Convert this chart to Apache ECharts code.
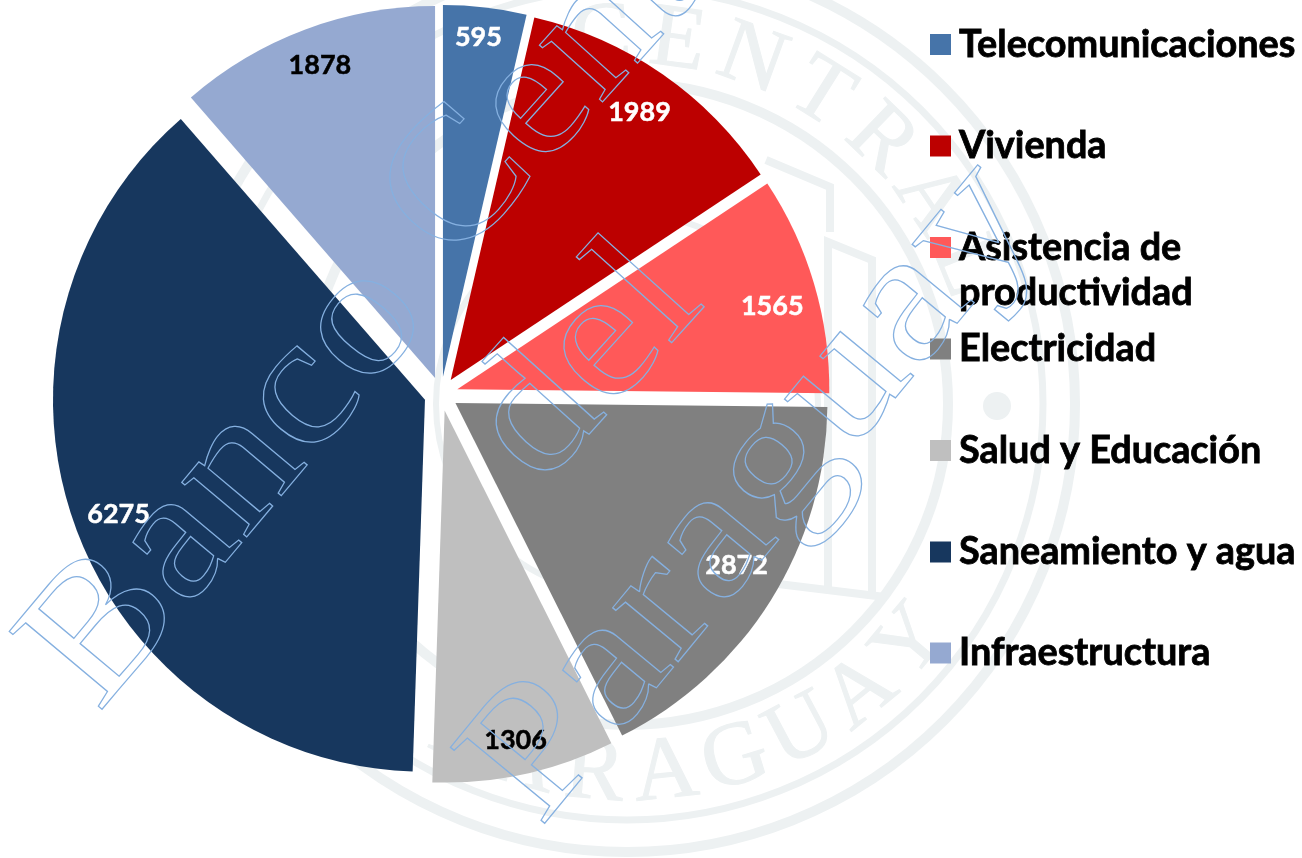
<!DOCTYPE html>
<html>
<head>
<meta charset="utf-8">
<style>html,body{margin:0;padding:0;background:#fff}#main{width:1302px;height:858px}</style>
<script src="https://cdn.jsdelivr.net/npm/echarts@6/dist/echarts.min.js"></script>
</head>
<body>
<div id="main"></div>
<script>
var categories = ['Telecomunicaciones', 'Vivienda', 'Asistencia de productividad', 'Electricidad', 'Salud y Educación', 'Saneamiento y agua', 'Infraestructura'];
var values = [595, 1989, 1565, 2872, 1306, 6275, 1878];
var colors = ['#4674A9', '#BC0000', '#FF5959', '#808080', '#BFBFBF', '#17375E', '#95A9D1'];
var labelColors = ['#fff', '#fff', '#fff', '#fff', '#000', '#fff', '#000'];
var labelNudges = [[-2, -10], [0, 5], [-3, 11], [0, -13], [0, 6], [6, 4], [1, -2]];
var legendY = [44.5, 146, 247.5, 349, 450.5, 552, 653];

var sealCx = 627, sealCy = 404;
var sealColor = '#EDF1F2';
var lineColor = '#85B0E0';

var dom = document.getElementById('main');
var myChart = echarts.init(dom);

// one legend per entry, the spacing in the picture is fixed
var legends = categories.map(function (name, i) {
    var twoLines = name.indexOf('Asistencia') === 0;
    return {
        data: [name],
        left: 930,
        top: legendY[i] - (twoLines ? 67.5 : 22.5),
        padding: 0,
        itemWidth: 21,
        itemHeight: 21,
        icon: 'rect',
        selectedMode: false,
        formatter: function (n) {
            return twoLines ? '\nAsistencia de\nproductividad' : n;
        },
        textStyle: {
            fontFamily: 'Lato',
            fontWeight: 'bold',
            fontSize: 37.8,
            lineHeight: 45,
            color: '#000',
            textBorderColor: '#000',
            textBorderWidth: 0.8,
            padding: [0, 0, 0, 3]
        }
    };
});

function sliceData(withLabel) {
    return categories.map(function (name, i) {
        var d = {name: name, value: values[i], selected: true};
        if (withLabel) {
            d.itemStyle = {color: 'transparent'};
            d.label = {
                color: labelColors[i],
                textBorderColor: labelColors[i],
                textBorderWidth: 0.5
            };
        } else {
            d.itemStyle = {color: colors[i]};
        }
        return d;
    });
}

// seal behind the pie, the letters follow the ring
var watermark = [];
function ring(r, w) {
    watermark.push({type: 'circle', z: -1, silent: true, shape: {cx: sealCx, cy: sealCy, r: r},
        style: {fill: 'transparent', stroke: sealColor, lineWidth: w}});
}
ring(448, 10);
ring(416, 7);
ring(321, 10);
ring(191, 6);
function ringText(str, startDeg, stepDeg, r, bottom) {
    str.split('').forEach(function (ch, i) {
        var deg = startDeg + i * stepDeg;
        var a = deg * Math.PI / 180;
        watermark.push({type: 'text', z: -1, silent: true,
            x: sealCx + r * Math.sin(a), y: sealCy - r * Math.cos(a),
            rotation: bottom ? Math.PI - a : -a,
            style: {text: ch, fill: sealColor, stroke: sealColor, lineWidth: 1,
                font: '90px "Liberation Serif"', align: 'center', verticalAlign: 'middle'}});
    });
}
ringText('CENTRAL', -4, 12, 365, false);
ringText('PARAGUAY', 207, -11, 372, true);
watermark.push({type: 'circle', z: -1, silent: true, shape: {cx: 997, cy: 406, r: 14}, style: {fill: sealColor}});

// building in the middle of the seal
function stroke(points) {
    watermark.push({type: 'polyline', z: -1, silent: true, shape: {points: points},
        style: {fill: 'none', stroke: sealColor, lineWidth: 8}});
}
stroke([[766, 160], [830, 187], [830, 232]]);
stroke([[828, 590], [828, 242], [872, 260], [872, 596]]);
stroke([[770, 583], [885, 597]]);

// outlined words on top of everything
function word(str, x, y, deg, sx) {
    watermark.push({type: 'text', z: 50, silent: true, x: x, y: y, rotation: deg * Math.PI / 180, scaleX: sx,
        style: {text: str, fill: 'transparent', stroke: lineColor, lineWidth: 1.2,
            font: '185px "Liberation Serif"', verticalAlign: 'bottom', align: 'left'}});
}
word('Banco', 132, 742, 50, 1.1);
word('Central', 485, 298, 48, 1.07);
word('del', 573, 518, 48, 1.1);
word('Paraguay', 574, 857, 50.5, 1.15);

var option = {
    animation: false,
    backgroundColor: '#fff',
    legend: legends,
    graphic: {elements: watermark},
    series: [
        {
            type: 'pie',
            center: [441, 394],
            radius: [0, 372],
            startAngle: 90,
            clockwise: true,
            selectedMode: 'multiple',
            selectedOffset: 17,
            silent: true,
            label: {show: false},
            labelLine: {show: false},
            data: sliceData(false)
        },
        {
            // no fill, only carries the value labels near the rim
            type: 'pie',
            center: [441, 394],
            radius: [285, 372],
            startAngle: 90,
            clockwise: true,
            selectedMode: 'multiple',
            selectedOffset: 17,
            silent: true,
            label: {
                show: true,
                position: 'inside',
                formatter: '{c}',
                fontFamily: 'Lato',
                fontWeight: 'bold',
                fontSize: 27
            },
            labelLayout: function (params) {
                var n = labelNudges[params.dataIndex];
                return {dx: n[0], dy: n[1]};
            },
            labelLine: {show: false},
            data: sliceData(true)
        }
    ]
};
myChart.setOption(option, true);
</script>
</body>
</html>
